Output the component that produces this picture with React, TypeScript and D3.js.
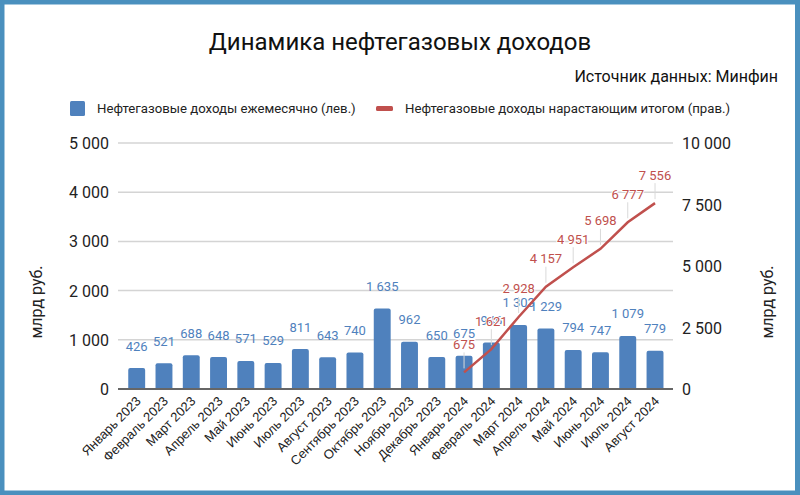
import * as d3 from "d3";
import React from "react";

const months = [
  "Январь 2023", "Февраль 2023", "Март 2023", "Апрель 2023", "Май 2023", "Июнь 2023",
  "Июль 2023", "Август 2023", "Сентябрь 2023", "Октябрь 2023", "Ноябрь 2023", "Декабрь 2023",
  "Январь 2024", "Февраль 2024", "Март 2024", "Апрель 2024", "Май 2024", "Июнь 2024",
  "Июль 2024", "Август 2024",
];

// monthly oil & gas revenue, bn rub (left axis)
const monthly = [426, 521, 688, 648, 571, 529, 811, 643, 740, 1635, 962, 650, 675, 946, 1303, 1229, 794, 747, 1079, 779];

// cumulative 2024, bn rub (right axis)
const cumMonths = ["Январь 2024", "Февраль 2024", "Март 2024", "Апрель 2024", "Май 2024", "Июнь 2024", "Июль 2024", "Август 2024"];
const cumulative = [675, 1621, 2928, 4157, 4951, 5698, 6777, 7556];

const leftTicks = [0, 1000, 2000, 3000, 4000, 5000];
const rightTicks = [0, 2500, 5000, 7500, 10000];

const W = 800;
const H = 495;
const BLUE = "#4f81bd";
const RED = "#c0504d";
const FONT = "Roboto, 'Noto Sans', sans-serif";

const ru = d3.formatLocale({ decimal: ",", thousands: " ", grouping: [3], currency: ["", ""] });
const fmt = ru.format(",d");

export default function App(): React.ReactElement {
  const plot = { left: 118, right: 673, top: 143, bottom: 389 };

  const x = d3
    .scaleBand<string>()
    .domain(months)
    .range([123.06, 668.66])
    .paddingInner(0.38)
    .paddingOuter(0.19);

  const yL = d3.scaleLinear().domain([0, 5000]).range([plot.bottom, plot.top]);
  const yR = d3.scaleLinear().domain([0, 10000]).range([plot.bottom, plot.top]);

  const cx = (m: string) => (x(m) ?? 0) + x.bandwidth() / 2;

  const line = d3
    .line<number>()
    .x((_, i) => cx(cumMonths[i]))
    .y((d) => yR(d));

  return (
    <svg
      width={W}
      height={H}
      style={{ position: "absolute", left: 0, top: 0, fontFamily: FONT }}
    >
      <rect x={0} y={0} width={W} height={H} fill="#4a90be" />
      <rect x={4.5} y={4.5} width={W - 9.5} height={H - 9} fill="#fff" />

      <text x={400} y={50} textAnchor="middle" fontSize={24} fill="#111">
        Динамика нефтегазовых доходов
      </text>
      <text x={778} y={82} textAnchor="end" fontSize={16} fill="#111">
        Источник данных: Минфин
      </text>

      {/* legend */}
      <rect x={70} y={101} width={15} height={15} rx={1.5} fill={BLUE} />
      <text x={97} y={113} fontSize={13.2} fill="#222">
        Нефтегазовые доходы ежемесячно (лев.)
      </text>
      <rect x={376} y={106} width={17} height={5} rx={1.5} fill={RED} />
      <text x={405} y={113} fontSize={13.2} fill="#222">
        Нефтегазовые доходы нарастающим итогом (прав.)
      </text>

      {/* gridlines */}
      {leftTicks.slice(1).map((t) => (
        <line
          key={`g-${t}`}
          x1={plot.left}
          x2={plot.right}
          y1={yL(t)}
          y2={yL(t)}
          stroke="#d4d4d4"
          strokeWidth={1.5}
        />
      ))}

      {/* left ticks */}
      {leftTicks.map((t) => (
        <text key={`l-${t}`} x={109} y={yL(t) + 6} textAnchor="end" fontSize={16} fill="#222">
          {fmt(t)}
        </text>
      ))}
      {/* right ticks */}
      {rightTicks.map((t) => (
        <text key={`r-${t}`} x={682} y={yR(t) + 6} fontSize={16} fill="#222">
          {fmt(t)}
        </text>
      ))}

      <text transform="translate(42,302) rotate(-90)" textAnchor="middle" fontSize={16} fill="#222">
        млрд руб.
      </text>
      <text transform="translate(773,302) rotate(-90)" textAnchor="middle" fontSize={16} fill="#222">
        млрд руб.
      </text>

      {/* bars */}
      {months.map((m, i) => {
        const top = yL(monthly[i]);
        return (
          <path
            key={`b-${m}`}
            fill={BLUE}
            d={`M${x(m)},${plot.bottom}V${top + 2}q0,-2 2,-2h${x.bandwidth() - 4}q2,0 2,2V${plot.bottom}Z`}
          />
        );
      })}

      {/* baseline */}
      <line x1={plot.left} x2={plot.right} y1={plot.bottom} y2={plot.bottom} stroke="#666" strokeWidth={2} />

      {/* bar labels */}
      {months.map((m, i) => (
        <text
          key={`bl-${m}`}
          x={cx(m)}
          y={yL(monthly[i]) - 17.5}
          textAnchor="middle"
          fontSize={13}
          fill={BLUE}
        >
          {fmt(monthly[i])}
        </text>
      ))}

      {/* cumulative line */}
      <path d={line(cumulative) ?? ""} fill="none" stroke={RED} strokeWidth={2.5} />

      {cumulative.map((v, i) => {
        const px = cx(cumMonths[i]);
        const py = yR(v);
        return (
          <g key={`cl-${i}`}>
            <line x1={px} x2={px} y1={py - 20} y2={py - 4} stroke="#d9d9d9" strokeWidth={1} />
            <text
              x={px}
              y={py - 23.5}
              textAnchor="middle"
              fontSize={13}
              fill={RED}
              stroke="#fff"
              strokeWidth={2}
              paintOrder="stroke"
            >
              {fmt(v)}
            </text>
          </g>
        );
      })}

      {/* x axis labels */}
      {months.map((m) => (
        <text
          key={`x-${m}`}
          transform={`translate(${cx(m) + 5},${plot.bottom + 13}) rotate(-45)`}
          textAnchor="end"
          fontSize={13}
          fontFamily="'Liberation Sans', Arial, sans-serif"
          fill="#222"
        >
          {m}
        </text>
      ))}
    </svg>
  );
}
